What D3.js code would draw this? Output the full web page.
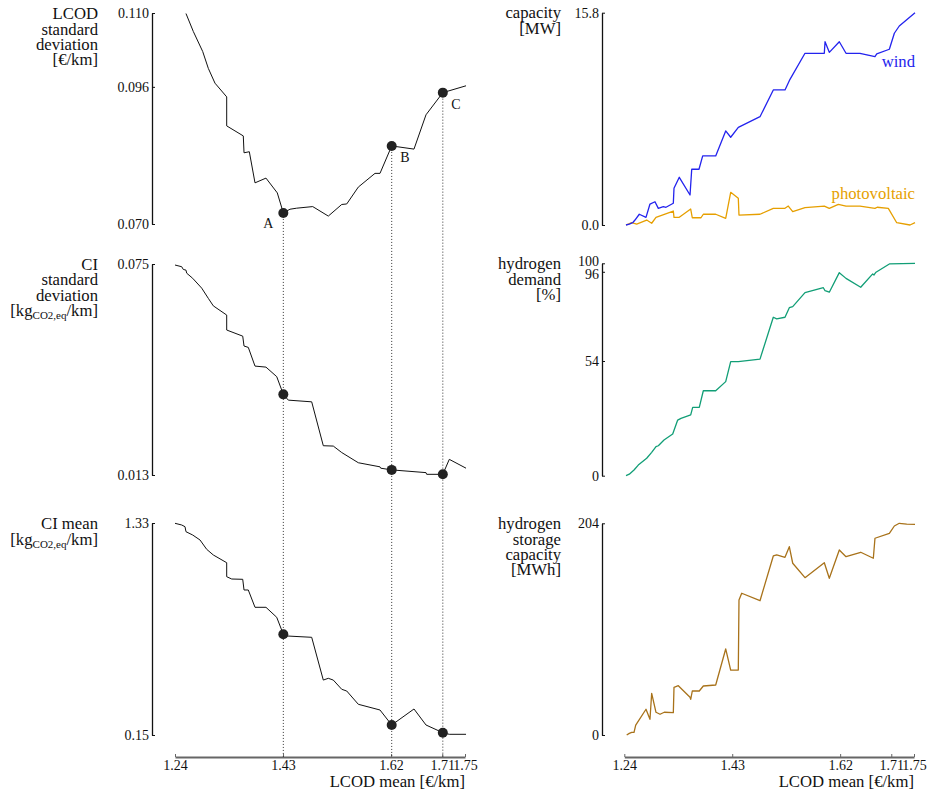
<!DOCTYPE html>
<html>
<head>
<meta charset="utf-8">
<title>LCOD trade-off</title>
<script src="https://d3js.org/d3.v7.min.js"></script>
<style>
  body { margin: 0; background: #fff; }
  svg text { font-family: "Liberation Serif", "DejaVu Serif", serif; fill: #111; }
</style>
</head>
<body>
<div id="chart"></div>
<script>
// x values (LCOD mean) and series
var xTicks = [1.24, 1.43, 1.62, 1.71, 1.75];
var markX = [1.4305, 1.6211, 1.7110];
var markLabels = ["A", "B", "C"];

var lcodStdX = [1.2593,1.2722,1.2887,1.2986,1.3103,1.3309,1.3309,1.3601,1.3614,1.3707,1.3807,1.4000,1.4199,1.4305,1.4422,1.4540,1.4822,1.5096,1.5332,1.5420,1.5624,1.5917,1.6005,1.6211,1.6603,1.6814,1.7110,1.7518];
var lcodStd = [0.1099,0.1065,0.1027,0.0995,0.0967,0.0941,0.0886,0.0867,0.0835,0.0837,0.0778,0.0787,0.0759,0.0721,0.0728,0.0730,0.0733,0.0715,0.0737,0.0738,0.0770,0.0796,0.0796,0.0848,0.0842,0.0907,0.0949,0.0962];
var lcodStdMarks = [0.0721, 0.0848, 0.0949];
var lcodStdTicks = [0.070, 0.096, 0.110];

var ciStdX = [1.2400,1.2518,1.2546,1.2593,1.2606,1.2711,1.2870,1.2986,1.3074,1.3309,1.3309,1.3591,1.3614,1.3689,1.3807,1.4000,1.4189,1.4305,1.4393,1.4804,1.5008,1.5184,1.5332,1.5624,1.6005,1.6018,1.6211,1.6814,1.6826,1.7110,1.7224,1.7518];
var ciStd = [0.0747,0.0742,0.0734,0.0732,0.0723,0.0708,0.0679,0.0649,0.0627,0.0600,0.0556,0.0538,0.0509,0.0505,0.0450,0.0447,0.0419,0.0367,0.0350,0.0345,0.0216,0.0215,0.0196,0.0166,0.0154,0.0150,0.0145,0.0137,0.0132,0.0132,0.0176,0.0150];
var ciStdMarks = [0.0367, 0.0145, 0.0132];
var ciStdTicks = [0.013, 0.075];

var ciMeanX = [1.2400,1.2518,1.2576,1.2593,1.2711,1.2840,1.2957,1.3074,1.3309,1.3309,1.3397,1.3591,1.3614,1.3689,1.3807,1.4000,1.4189,1.4305,1.4375,1.4804,1.5008,1.5096,1.5184,1.5332,1.5420,1.5624,1.6005,1.6211,1.6603,1.6814,1.7110,1.7224,1.7518];
var ciMean = [1.3283,1.3189,1.3094,1.2816,1.2632,1.2354,1.1836,1.1519,1.1090,1.0311,1.0183,1.0166,0.9571,0.9571,0.8608,0.8608,0.8051,0.7105,0.7010,0.6938,0.4557,0.4656,0.4557,0.4044,0.3949,0.3209,0.2892,0.2057,0.2948,0.2057,0.1628,0.1539,0.1539];
var ciMeanMarks = [0.7105, 0.2057, 0.1628];
var ciMeanTicks = [0.15, 1.33];

var windX = [1.2430,1.2488,1.2548,1.2588,1.2664,1.2782,1.2852,1.2940,1.2999,1.3087,1.3134,1.3263,1.3275,1.3368,1.3557,1.3587,1.3715,1.3780,1.4009,1.4185,1.4273,1.4407,1.4789,1.5023,1.5229,1.5317,1.5581,1.5921,1.5934,1.6009,1.6185,1.6303,1.6549,1.6813,1.6844,1.7066,1.7154,1.7241,1.7518];
var wind = [0,0.07,0.17,0.37,0.80,0.57,1.56,1.73,1.24,1.36,1.32,1.62,2.73,3.55,2.23,4.15,4.15,5.14,5.14,7.00,6.53,7.27,8.06,10.05,10.05,10.84,12.78,12.78,13.64,12.85,13.64,12.78,12.78,12.53,12.73,13.08,14.27,14.81,15.80];

var pvX = [1.2430,1.2530,1.2618,1.2794,1.2882,1.2958,1.3263,1.3275,1.3368,1.3569,1.3597,1.3750,1.3791,1.4009,1.4185,1.4273,1.4407,1.4419,1.4789,1.5023,1.5229,1.5287,1.5365,1.5581,1.5921,1.6009,1.6168,1.6303,1.6549,1.6813,1.6853,1.7048,1.7196,1.7430,1.7518];
var pv = [0,0.17,0.07,0.37,0.13,0.57,1.04,0.57,0.57,1.19,0.54,0.54,0.80,0.80,0.50,2.43,1.99,0.74,0.80,1.24,1.24,1.41,0.99,1.29,1.41,1.24,1.54,1.41,1.41,1.24,1.32,1.24,0.17,0,0.17];
var capacityTicks = [0, 15.8];

var demandX = [1.2430,1.2488,1.2571,1.2646,1.2794,1.2882,1.2958,1.2999,1.3099,1.3252,1.3340,1.3398,1.3569,1.3604,1.3720,1.3791,1.4009,1.4185,1.4273,1.4407,1.4789,1.5023,1.5083,1.5229,1.5305,1.5365,1.5581,1.5904,1.5934,1.6009,1.6185,1.6303,1.6562,1.6773,1.6796,1.6831,1.7066,1.7518];
var demand = [0,0.7,2.7,5.0,8.2,11.0,13.7,14.1,16.8,19.6,26.2,27.0,28.6,32.2,32.2,40.0,40.0,44.3,53.7,53.7,54.9,74.6,73.8,74.6,79.1,79.6,86.2,88.5,87.1,86.4,95.6,92.9,88.7,95.0,94.5,95.8,99.7,100];
var demandTicks = [0, 54, 96, 100];

var storageX = [1.2442,1.2488,1.2530,1.2571,1.2601,1.2782,1.2852,1.2882,1.2958,1.3029,1.3104,1.3263,1.3275,1.3351,1.3557,1.3569,1.3597,1.3720,1.3791,1.4009,1.4185,1.4273,1.4407,1.4419,1.4467,1.4789,1.5023,1.5083,1.5229,1.5305,1.5365,1.5581,1.5921,1.6009,1.6185,1.6303,1.6562,1.6784,1.6813,1.7066,1.7154,1.7241,1.7372,1.7518];
var storage = [0,1.6,2.6,2.6,9.6,24.8,15.1,40.2,21.9,20.0,21.9,21.5,46.0,47.5,36.3,34.4,42.4,42.4,47.2,48.2,82.9,62.6,62.6,130.1,136.6,129.4,172.5,173.5,171.2,181.5,165.5,151.6,166.0,151.0,178.3,171.8,176.1,170.3,189.6,194.4,201.4,204.0,203.3,203.0];
var storageTicks = [0, 204];

var width = 933, height = 796;
var svg = d3.select("#chart").append("svg")
  .attr("width", width)
  .attr("height", height);

var xLeft = d3.scaleLinear().domain([1.24, 1.75]).range([175, 465]);
var xRight = d3.scaleLinear().domain([1.24, 1.75]).range([624.3, 914]);
var axisY = 757;

// one panel: y axis, title lines, and series
function panel(o) {
  var y = d3.scaleLinear().domain(d3.extent(o.ticks)).range([o.bottom, o.top]);
  var fmt = d3.format(o.fmt);
  var g = svg.append("g").attr("transform", "translate(" + o.axisX + ",0)")
    .call(d3.axisLeft(y).tickValues(o.ticks).tickFormat(fmt).tickSizeInner(-3).tickSizeOuter(0).tickPadding(3));
  g.select(".domain").attr("stroke", "#111").attr("stroke-width", 1.3);
  g.selectAll(".tick line").attr("stroke", "#111");
  g.selectAll(".tick text").style("font-size", "14px")
    .style("font-family", "Liberation Serif, serif").attr("fill", "#111");
  if (o.tickDy) g.selectAll(".tick text").attr("dy", function(d) { return o.tickDy[d] || "0.32em"; });

  var t = svg.append("text").attr("text-anchor", "end").style("font-size", "16.7px");
  o.title.forEach(function(line, i) {
    var ts = t.append("tspan").attr("x", o.titleX).attr("y", o.titleY + i * 15.3);
    if (Array.isArray(line)) {
      ts.text(line[0]);
      ts.append("tspan").attr("dy", 3.5).style("font-size", "11px").text(line[1]);
      ts.append("tspan").attr("dy", -3.5).text(line[2]);
    } else {
      ts.text(line);
    }
  });

  o.series.forEach(function(s) {
    var pts = d3.zip(s.x, s.y);
    svg.append("path")
      .datum(pts)
      .attr("fill", "none")
      .attr("stroke", s.color)
      .attr("stroke-width", s.width || 1)
      .attr("stroke-linejoin", "round")
      .attr("d", d3.line().x(function(d) { return o.x(d[0]); }).y(function(d) { return y(d[1]); }));
  });
  return y;
}

function xAxis(x, labelX) {
  var g = svg.append("g").attr("transform", "translate(0," + axisY + ")")
    .call(d3.axisBottom(x).tickValues(xTicks).tickFormat(d3.format(".2f")).tickSizeInner(-3).tickSizeOuter(0).tickPadding(3));
  g.select(".domain").attr("stroke", "#666").attr("stroke-width", 2);
  g.selectAll(".tick line").attr("stroke", "#666");
  g.selectAll(".tick text").style("font-size", "14px")
    .style("font-family", "Liberation Serif, serif").attr("fill", "#111");
  svg.append("text").attr("x", labelX).attr("y", 787).attr("text-anchor", "end")
    .style("font-size", "16.7px").text("LCOD mean [€/km]");
}

// left column
var yTop = panel({ x: xLeft, axisX: 152, top: 13, bottom: 224, ticks: lcodStdTicks, fmt: ".3f",
  titleX: 98, titleY: 19.3, title: ["LCOD", "standard", "deviation", "[€/km]"],
  series: [{ x: lcodStdX, y: lcodStd, color: "#111" }] });
var yMid = panel({ x: xLeft, axisX: 152, top: 264, bottom: 475, ticks: ciStdTicks, fmt: ".3f",
  titleX: 98, titleY: 270, title: ["CI", "standard", "deviation", ["[kg", "CO2,eq", "/km]"]],
  series: [{ x: ciStdX, y: ciStd, color: "#111" }] });
var yBot = panel({ x: xLeft, axisX: 152, top: 523, bottom: 735, ticks: ciMeanTicks, fmt: ".2f",
  titleX: 98, titleY: 529.3, title: ["CI mean", ["[kg", "CO2,eq", "/km]"]],
  series: [{ x: ciMeanX, y: ciMean, color: "#111" }] });
xAxis(xLeft, 465);

// dotted guides from the top marker down to the x axis
svg.selectAll(".guide").data(markX).enter().append("line")
  .attr("class", "guide")
  .attr("x1", function(d) { return xLeft(d); })
  .attr("x2", function(d) { return xLeft(d); })
  .attr("y1", function(d, i) { return yTop(lcodStdMarks[i]); })
  .attr("y2", axisY)
  .attr("stroke", "#333")
  .attr("stroke-width", 1)
  .attr("stroke-dasharray", "1,2");

[[yTop, lcodStdMarks], [yMid, ciStdMarks], [yBot, ciMeanMarks]].forEach(function(p) {
  svg.append("g").selectAll("circle").data(markX).enter().append("circle")
    .attr("cx", function(d) { return xLeft(d); })
    .attr("cy", function(d, i) { return p[0](p[1][i]); })
    .attr("r", 5)
    .attr("fill", "#222");
});

// A B C labels
var labelOff = [[-10, 15.5, "end"], [8.5, 15.7, "start"], [8.5, 16.6, "start"]];
svg.selectAll(".mlab").data(markX).enter().append("text")
  .attr("class", "mlab")
  .attr("x", function(d, i) { return xLeft(d) + labelOff[i][0]; })
  .attr("y", function(d, i) { return yTop(lcodStdMarks[i]) + labelOff[i][1]; })
  .attr("text-anchor", function(d, i) { return labelOff[i][2]; })
  .style("font-size", "14px")
  .text(function(d, i) { return markLabels[i]; });

// right column
var windColor = "#2323ee", pvColor = "#e69f00";
var yCap = panel({ x: xRight, axisX: 602, top: 12.7, bottom: 225, ticks: capacityTicks, fmt: ".1f",
  titleX: 561, titleY: 18.3, title: ["capacity", "[MW]"],
  series: [{ x: pvX, y: pv, color: pvColor, width: 1.3 }, { x: windX, y: wind, color: windColor, width: 1.3 }] });
svg.append("text").attr("x", 915).attr("y", 66.7).attr("text-anchor", "end")
  .style("font-size", "16.7px").style("fill", windColor).text("wind");
svg.append("text").attr("x", 915).attr("y", 199.3).attr("text-anchor", "end")
  .style("font-size", "16.7px").style("fill", pvColor).text("photovoltaic");

panel({ x: xRight, axisX: 602, top: 263.3, bottom: 475.7, ticks: demandTicks, fmt: "d",
  titleX: 561, titleY: 269.3, title: ["hydrogen", "demand", "[%]"],
  tickDy: { 100: "0.15em", 96: "0.5em" },
  series: [{ x: demandX, y: demand, color: "#119e76", width: 1.3 }] });

panel({ x: xRight, axisX: 602, top: 523.3, bottom: 735, ticks: storageTicks, fmt: "d",
  titleX: 561, titleY: 529.3, title: ["hydrogen", "storage", "capacity", "[MWh]"],
  series: [{ x: storageX, y: storage, color: "#a8721a", width: 1.3 }] });
xAxis(xRight, 914);
</script>
</body>
</html>
